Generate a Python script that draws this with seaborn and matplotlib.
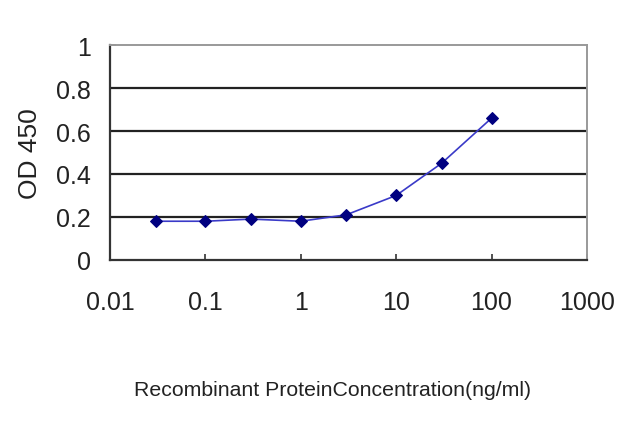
import numpy as np
import pandas as pd
import matplotlib
matplotlib.use("Agg")
import matplotlib.pyplot as plt
import seaborn as sns

# Concentration series (ng/ml) and OD 450 readings
concentration = [0.03, 0.1, 0.3, 1, 3, 10, 30, 100]
od450 = [0.18, 0.18, 0.19, 0.18, 0.21, 0.30, 0.45, 0.66]
x_ticks = [0.01, 0.1, 1, 10, 100, 1000]
x_tick_labels = ["0.01", "0.1", "1", "10", "100", "1000"]
y_ticks = [0, 0.2, 0.4, 0.6, 0.8, 1]
y_tick_labels = ["0", "0.2", "0.4", "0.6", "0.8", "1"]

df = pd.DataFrame({"conc": concentration, "od": od450})

sns.set_style("white")
plt.rcParams['font.family'] = ['Liberation Sans', 'DejaVu Sans']

fig = plt.figure(figsize=(6.4, 4.27), dpi=100)
ax = fig.add_axes([0.172, 0.389, 0.745, 0.503])

sns.lineplot(data=df, x="conc", y="od", ax=ax, color="#3a3ac8", linewidth=1.2,
             marker="D", markersize=6.5, markerfacecolor="#000080",
             markeredgecolor="#000080", zorder=3)

ax.set_xscale("log")
ax.set_xlim(0.01, 1000)
ax.set_ylim(0, 1)
ax.set_xticks(x_ticks)
ax.set_xticklabels(x_tick_labels)
ax.set_yticks(y_ticks)
ax.set_yticklabels(y_tick_labels)
ax.xaxis.set_minor_locator(matplotlib.ticker.NullLocator())

# horizontal grid lines
for y in y_ticks[1:-1]:
    ax.axhline(y, color="#222222", linewidth=1.6, zorder=1)

ax.tick_params(axis="both", direction="in", length=4, width=1.2, colors="#333333",
               labelsize=18, labelcolor="#222222")
ax.tick_params(axis="x", pad=22, bottom=True, top=False)
ax.tick_params(axis="y", pad=14, left=True, right=False)

for side in ["left", "bottom"]:
    ax.spines[side].set_color("#333333")
    ax.spines[side].set_linewidth(1.6)
for side in ["top", "right"]:
    ax.spines[side].set_color("#999999")
    ax.spines[side].set_linewidth(1.4)

ax.set_xlabel("Recombinant ProteinConcentration(ng/ml)", fontsize=15.3,
              color="#222222", va="center")
ax.xaxis.set_label_coords(0.466, -0.605)
ax.set_ylabel("OD 450", fontsize=19, color="#222222", labelpad=10)

fig.savefig("out.png", dpi=100)
